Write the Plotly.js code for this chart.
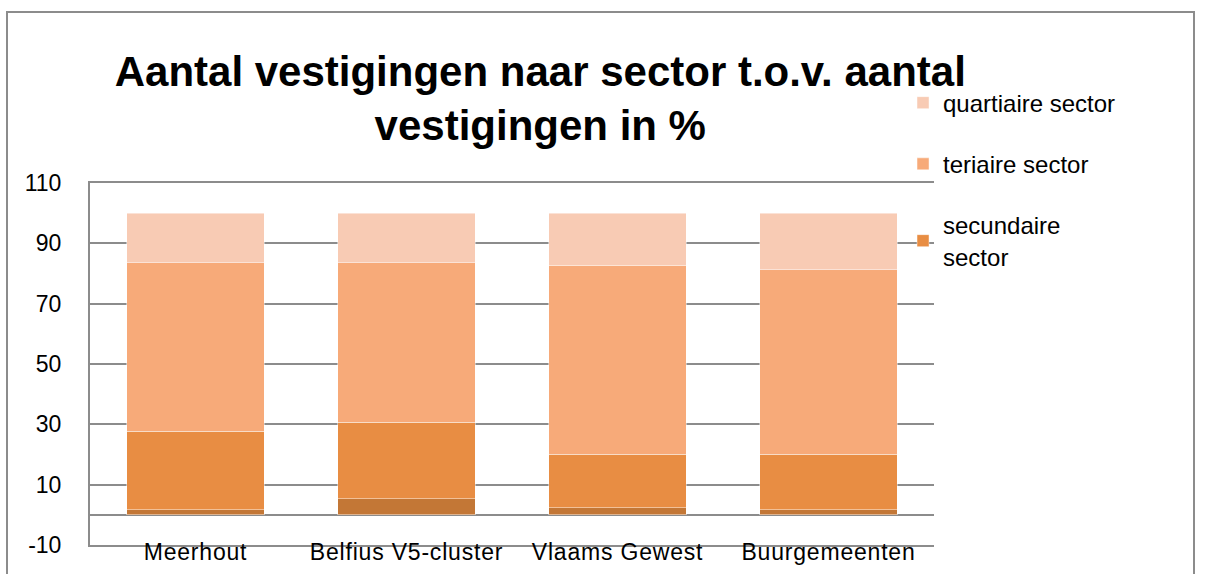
<!DOCTYPE html>
<html>
<head>
<meta charset="utf-8">
<script src="https://cdn.plot.ly/plotly-3.0.1.min.js"></script>
<style>
  html, body { margin: 0; padding: 0; background: #fff; }
  #wrap { position: relative; width: 1206px; height: 574px; overflow: hidden; }
  #chart { width: 1206px; height: 574px; }
  #frame { position: absolute; left: 6px; top: 11px; width: 1189px; height: 620px;
           border: 2px solid #8c8c8c; pointer-events: none; box-sizing: border-box; }
  #chart .xtick text { letter-spacing: 0.8px; }
</style>
</head>
<body>
<div id="wrap">
  <div id="chart"></div>
  <div id="frame"></div>
</div>
<script>
const categories = ["Meerhout", "Belfius V5-cluster", "Vlaams Gewest", "Buurgemeenten"];
const primaire   = [1.7, 5.3, 2.3, 1.7];
const secundaire = [26.0, 25.4, 17.8, 18.4];
const teriaire   = [55.9, 52.9, 62.7, 61.1];
const quartiaire = [16.4, 16.4, 17.2, 18.8];
const yTicks = [-10, 10, 30, 50, 70, 90, 110];

const FONT = "Liberation Sans, Arial, sans-serif";
const sep = {color: "rgba(255,255,255,0.45)", width: 1};

const traces = [
  {type: "bar", name: "primaire sector", x: categories, y: primaire,
   marker: {color: "#C37736", line: sep}, showlegend: false, legendgroup: "p", legendrank: 4, hoverinfo: "skip"},
  {type: "bar", name: "secundaire<br>sector", x: categories, y: secundaire,
   marker: {color: "#E88D43", line: sep}, legendgroup: "s", legendrank: 3, hoverinfo: "skip"},
  {type: "bar", name: "teriaire sector", x: categories, y: teriaire,
   marker: {color: "#F7AA79", line: sep}, legendgroup: "t", legendrank: 2, hoverinfo: "skip"},
  {type: "bar", name: "quartiaire sector", x: categories, y: quartiaire,
   marker: {color: "#F8CBB4", line: sep}, legendgroup: "q", legendrank: 1, hoverinfo: "skip"}
];

const layout = {
  width: 1206, height: 574,
  paper_bgcolor: "#ffffff", plot_bgcolor: "#ffffff",
  margin: {l: 90, r: 272, t: 183, b: 28.5, pad: 0},
  barmode: "stack", bargap: 0.35,
  font: {family: FONT, color: "#000"},
  title: {
    text: "Aantal vestigingen naar sector t.o.v. aantal<br>vestigingen in %",
    font: {family: FONT, size: 42, color: "#000", weight: "bold"},
    xref: "container", x: 0.448, xanchor: "center",
    yref: "container", y: 0.851, yanchor: "middle"
  },
  xaxis: {
    showgrid: false, zeroline: false, ticks: "",
    showline: true, mirror: true, linecolor: "#8c8c8c", linewidth: 2,
    tickfont: {family: FONT, size: 23, color: "#000"},
    ticklabelstandoff: -15,
    fixedrange: true
  },
  yaxis: {
    range: [-10, 110], tickvals: yTicks, ticktext: yTicks.map(String),
    showgrid: true, gridcolor: "#8c8c8c", gridwidth: 2,
    zeroline: true, zerolinecolor: "#8c8c8c", zerolinewidth: 2,
    showline: true, linecolor: "#8c8c8c", linewidth: 2,
    ticks: "", ticklabelstandoff: 22,
    tickfont: {family: FONT, size: 23, color: "#000"},
    fixedrange: true
  },
  legend: {
    x: 0.9633, xanchor: "left", y: 1.283, yanchor: "top",
    traceorder: "grouped", tracegroupgap: 27,
    font: {family: FONT, size: 24, color: "#000"},
    bgcolor: "rgba(0,0,0,0)", itemclick: false, itemdoubleclick: false
  },
  showlegend: true
};

Plotly.newPlot("chart", traces, layout, {displayModeBar: false, staticPlot: true});
</script>
</body>
</html>
